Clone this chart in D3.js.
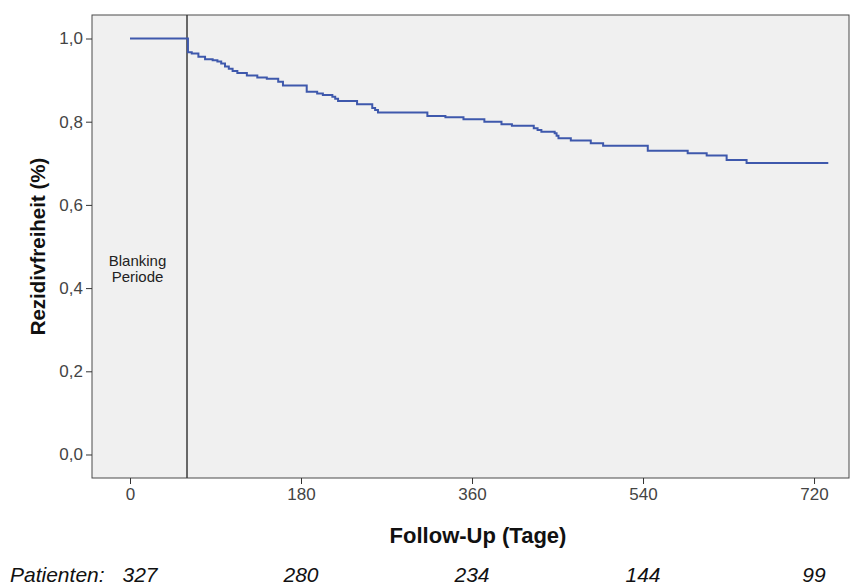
<!DOCTYPE html>
<html>
<head>
<meta charset="utf-8">
<script src="https://cdn.jsdelivr.net/npm/d3@7"></script>
<style>
  body { margin: 0; background: #fff; }
  svg text { font-family: "Liberation Sans", Arial, sans-serif; }
</style>
</head>
<body>
<div id="chart"></div>
<script>
// Kaplan-Meier steps (days, survival after the step)
var stepDays = [0, 61, 65, 72, 79, 87, 92, 96, 100, 104, 108, 113, 123, 134, 144, 156, 161, 186,
                197, 203, 213, 216, 219, 239, 255, 258, 261, 313, 332, 351, 373, 391, 402,
                425, 429, 433, 447, 449, 451, 464, 485, 498, 545, 587, 607, 628, 649];
var stepSurv = [1.0, 0.967, 0.964, 0.956, 0.950, 0.948, 0.945, 0.940, 0.933, 0.927, 0.922, 0.917,
                0.911, 0.906, 0.903, 0.896, 0.887, 0.872, 0.868, 0.864, 0.860, 0.855, 0.850,
                0.842, 0.833, 0.828, 0.822, 0.814, 0.811, 0.806, 0.800, 0.794, 0.790, 0.784,
                0.780, 0.776, 0.772, 0.766, 0.760, 0.755, 0.748, 0.742, 0.730, 0.724, 0.719,
                0.708, 0.701];
var lastDay = 735;
var blankingDay = 60;

var xTicks = [0, 180, 360, 540, 720];
var yTicks = [0, 0.2, 0.4, 0.6, 0.8, 1.0];
var patientDays = [0, 180, 360, 540, 720];
var patientCounts = [327, 280, 234, 144, 99];

var width = 850, height = 587;
var plotLeft = 92, plotRight = 849, plotTop = 15, plotBottom = 478;

var svg = d3.select('#chart').append('svg')
    .attr('width', width)
    .attr('height', height);

var x = d3.scaleLinear().domain([-40, 756.8]).range([plotLeft, plotRight]);
var y = d3.scaleLinear().domain([-0.0565, 1.0565]).range([plotBottom, plotTop]);

// plot background
svg.append('rect')
    .attr('x', plotLeft).attr('y', plotTop)
    .attr('width', plotRight - plotLeft).attr('height', plotBottom - plotTop)
    .attr('fill', '#f0f0f0')
    .attr('stroke', '#4a4a4a')
    .attr('stroke-width', 1);

// y axis
var yAxis = d3.axisLeft(y)
    .tickValues(yTicks)
    .tickSize(6)
    .tickPadding(3)
    .tickFormat(function (d) { return d3.format('.1f')(d).replace('.', ','); });
var gy = svg.append('g').attr('transform', 'translate(' + plotLeft + ',0)').call(yAxis);
gy.select('.domain').remove();
gy.selectAll('line').attr('stroke', '#333');
gy.selectAll('text')
    .attr('font-size', 17)
    .attr('fill', '#444')
    .style('font-family', '"Liberation Sans", Arial, sans-serif');

// x axis
var xAxis = d3.axisBottom(x)
    .tickValues(xTicks)
    .tickSize(6)
    .tickPadding(4);
var gx = svg.append('g').attr('transform', 'translate(0,' + plotBottom + ')').call(xAxis);
gx.select('.domain').remove();
gx.selectAll('line').attr('stroke', '#333');
gx.selectAll('text')
    .attr('font-size', 17)
    .attr('fill', '#444')
    .style('font-family', '"Liberation Sans", Arial, sans-serif');

// blanking line
svg.append('line')
    .attr('x1', x(blankingDay)).attr('x2', x(blankingDay))
    .attr('y1', plotTop).attr('y2', plotBottom)
    .attr('stroke', '#3a3a3a')
    .attr('stroke-width', 1.5);

var blankX = 137.5;
svg.append('text')
    .attr('x', blankX)
    .attr('y', 266)
    .attr('text-anchor', 'middle')
    .attr('font-size', 15)
    .attr('fill', '#222')
    .text('Blanking');
svg.append('text')
    .attr('x', blankX)
    .attr('y', 282)
    .attr('text-anchor', 'middle')
    .attr('font-size', 15)
    .attr('fill', '#222')
    .text('Periode');

// survival curve
var pts = stepDays.map(function (d, i) { return [d, stepSurv[i]]; });
pts.push([lastDay, stepSurv[stepSurv.length - 1]]);
var line = d3.line()
    .x(function (d) { return x(d[0]); })
    .y(function (d) { return y(d[1]); })
    .curve(d3.curveStepAfter);
svg.append('path')
    .datum(pts)
    .attr('d', line)
    .attr('fill', 'none')
    .attr('stroke', '#3e58ac')
    .attr('stroke-width', 2);

// axis titles
svg.append('text')
    .attr('x', 478)
    .attr('y', 543)
    .attr('text-anchor', 'middle')
    .attr('font-size', 22)
    .attr('font-weight', 'bold')
    .attr('fill', '#111')
    .text('Follow-Up (Tage)');

svg.append('text')
    .attr('transform', 'translate(45,' + y(0.5) + ') rotate(-90)')
    .attr('text-anchor', 'middle')
    .attr('font-size', 20.5)
    .attr('font-weight', 'bold')
    .attr('fill', '#111')
    .text('Rezidivfreiheit (%)');

// patients at risk
svg.append('text')
    .attr('x', 10)
    .attr('y', 582)
    .attr('font-size', 21)
    .attr('font-style', 'italic')
    .attr('fill', '#111')
    .text('Patienten:');

svg.selectAll('.risk')
    .data(patientCounts)
    .enter().append('text')
    .attr('class', 'risk')
    .attr('x', function (d, i) { return x(patientDays[i]) + (i === 0 ? 10 : 0); })
    .attr('y', 582)
    .attr('text-anchor', 'middle')
    .attr('font-size', 21)
    .attr('font-style', 'italic')
    .attr('fill', '#111')
    .text(function (d) { return d; });
</script>
</body>
</html>
